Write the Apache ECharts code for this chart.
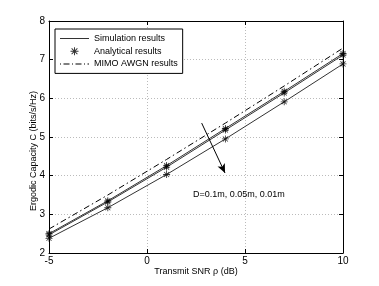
<!DOCTYPE html>
<html><head><meta charset="utf-8">
<script src="https://cdn.jsdelivr.net/npm/echarts@6/dist/echarts.min.js"></script>
<style>html,body{margin:0;padding:0;background:#fff}#c{width:379px;height:286px}</style>
</head><body><div id="c"></div>
<script>
var snr = [-5, -2, 1, 4, 7, 10];
var capD01 = [2.50, 3.35, 4.26, 5.22, 6.18, 7.16];
var capD005 = [2.47, 3.32, 4.22, 5.18, 6.14, 7.12];
var capD001 = [2.38, 3.17, 4.03, 4.95, 5.91, 6.89];
var capAWGN = [2.62, 3.50, 4.42, 5.36, 6.32, 7.30];
var arrowStart = [2.79, 5.36];
var arrowEnd = [3.98, 4.07];
var annotPos = [2.35, 3.50];
var annotText = 'D=0.1m, 0.05m, 0.01m';

function pairs(v){ return snr.map(function(x,i){ return [x, v[i]]; }); }
var star = 'path://M4.4,0h1.2v10h-1.2z M0,4.4h10v1.2h-10z M1,1.8L1.8,1L9,8.2L8.2,9z M8.2,1L9,1.8L1.8,9L1,8.2z';
var lineIcon = 'path://M0,0h29v1h-29z';
var dashDotIcon = 'path://M0,0h1v1h-1z M3.5,0h6v1h-6z M12,0h1v1h-1z M15.5,0h6v1h-6z M24,0h1v1h-1z M27.5,0h1.5v1h-1.5z';
var F = 'Liberation Sans, Arial, sans-serif';
var chart = echarts.init(document.getElementById('c'));
var simStyle = {color:'#333', width:1};
function simSeries(v){ return {name:'Simulation results', type:'line', data:pairs(v), symbol:'none', lineStyle:simStyle, itemStyle:{color:'#333'}, z:2}; }
function anaSeries(v){ return {name:'Analytical results', type:'scatter', data:pairs(v), symbol:star, symbolSize:7, itemStyle:{color:'#000'}, z:3}; }
var aLine = {show:true, onZero:false, lineStyle:{color:'#000', width:1}};
var aTick = {show:true, inside:true, length:4, lineStyle:{color:'#000'}};
var grid = {show:true, lineStyle:{color:'#bbb', type:[1,2], width:1}};
chart.setOption({
  animation:false,
  grid:{left:49, right:36, top:21, bottom:33, show:false},
  legend:{
    left:55, top:29, orient:'vertical', itemWidth:29, itemHeight:8, itemGap:3.7,
    padding:[5,5,5,5], borderColor:'#000', borderWidth:1, backgroundColor:'#fff', borderRadius:0,
    textStyle:{fontFamily:F, fontSize:9, color:'#000'},
    data:[{name:'Simulation results', icon:lineIcon},{name:'Analytical results', icon:star},{name:'MIMO AWGN results', icon:dashDotIcon}]
  },
  xAxis:[
    {type:'value', min:-5, max:10, interval:5, position:'bottom',
      name:'Transmit SNR \u03c1 (dB)', nameLocation:'middle', nameGap:14, nameMoveOverlap:false,
      nameTextStyle:{fontFamily:F, fontSize:9, color:'#000'},
      axisLabel:{fontFamily:F, fontSize:10, color:'#000', margin:3, formatter:function(v){return String(v).replace('\u2212','-');}},
      splitLine:grid, axisLine:aLine, axisTick:aTick},
    {type:'value', min:-5, max:10, interval:5, position:'top', axisLabel:{show:false}, splitLine:{show:false}, axisLine:aLine, axisTick:aTick}
  ],
  yAxis:[
    {type:'value', min:2, max:8, interval:1, position:'left',
      name:'Ergodic Capacity C (bits/s/Hz)', nameLocation:'middle', nameGap:11, nameMoveOverlap:false,
      nameTextStyle:{fontFamily:F, fontSize:9, color:'#000', padding:[0,28,0,0]},
      axisLabel:{fontFamily:F, fontSize:10, color:'#000', margin:4},
      splitLine:grid, axisLine:aLine, axisTick:aTick},
    {type:'value', min:2, max:8, interval:1, position:'right', axisLabel:{show:false}, splitLine:{show:false}, axisLine:aLine, axisTick:aTick}
  ],
  series:[
    simSeries(capD01), simSeries(capD005), simSeries(capD001),
    anaSeries(capD01), anaSeries(capD005), anaSeries(capD001),
    {name:'MIMO AWGN results', type:'line', data:pairs(capAWGN), symbol:'none',
      lineStyle:{color:'#000', width:1, type:[6,3,1.5,3]}, itemStyle:{color:'#000'}, z:2},
    {type:'line', data:[], silent:true,
      markLine:{silent:true, symbol:['none','arrow'], symbolSize:[6,9], label:{show:false},
        lineStyle:{color:'#000', width:1, type:'solid'},
        data:[[{coord:arrowStart},{coord:arrowEnd}]]},
      markPoint:{silent:true, symbol:'circle', symbolSize:0,
        label:{show:true, position:'right', distance:0, formatter:annotText, fontFamily:F, fontSize:9, color:'#000'},
        data:[{coord:annotPos}]}
    }
  ]
});
</script></body></html>
